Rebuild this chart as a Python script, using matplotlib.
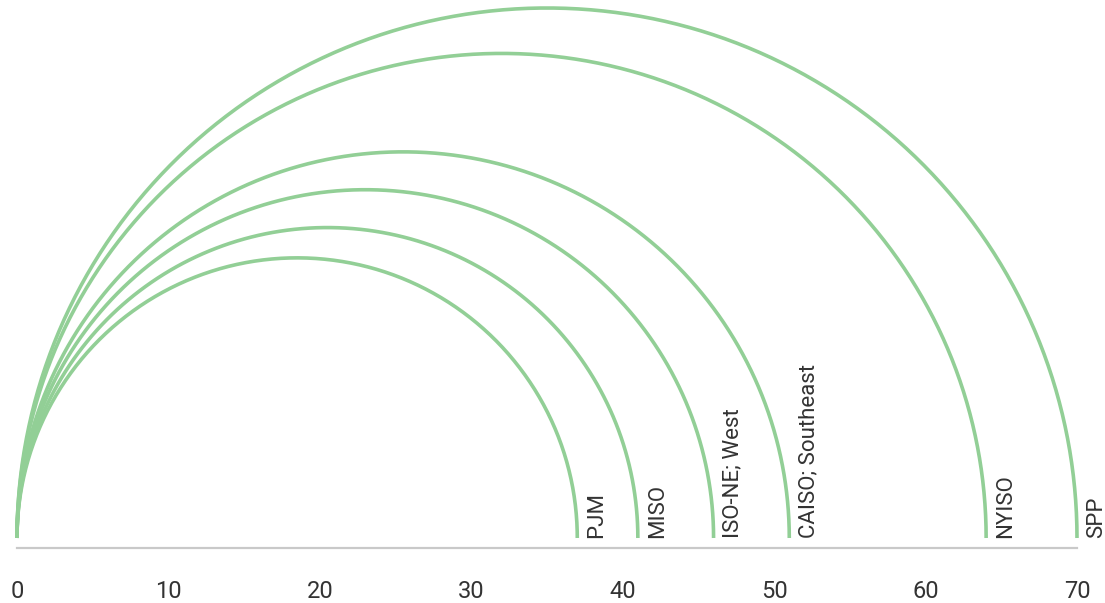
import numpy as np
import matplotlib
matplotlib.use("Agg")
import matplotlib.pyplot as plt

# valores
mercados = ["PJM", "MISO", "ISO-NE; West", "CAISO; Southeast", "NYISO", "SPP"]
valores = [37, 41, 46, 51, 64, 70]
ticks_x = [0, 10, 20, 30, 40, 50, 60, 70]

VERDE = "#92cf96"
GRIS_EJE = "#c9c9c9"
TEXTO = "#333333"

plt.rcParams["font.family"] = ["Roboto", "DejaVu Sans"]

W, H = 1105, 603
fig = plt.figure(figsize=(W / 100, H / 100), dpi=100)
escala = 1060 / 70  # px por unidad
ax = fig.add_axes([17 / W, (H - 548) / H, 1060 / W, 548 / H])
y0 = -10 / escala
ax.set_xlim(0, 70)
ax.set_ylim(y0, y0 + 548 / escala)

theta = np.linspace(np.pi, 0, 400)
for nombre, v in zip(mercados, valores):
    r = v / 2
    ax.plot(r + r * np.cos(theta), r * np.sin(theta), color=VERDE,
            lw=2.6, solid_capstyle="butt", clip_on=False)
    ax.text(v + 0.6, 0.02, nombre, rotation=90, ha="left", va="bottom",
            fontsize=16, color=TEXTO)

for lado in ["top", "right", "left"]:
    ax.spines[lado].set_visible(False)
ax.spines["bottom"].set_color(GRIS_EJE)
ax.spines["bottom"].set_linewidth(1.6)
ax.set_yticks([])
ax.set_xticks(ticks_x)
ax.tick_params(axis="x", length=0, pad=23, labelsize=17, labelcolor=TEXTO)

fig.savefig("out.png", dpi=100)
